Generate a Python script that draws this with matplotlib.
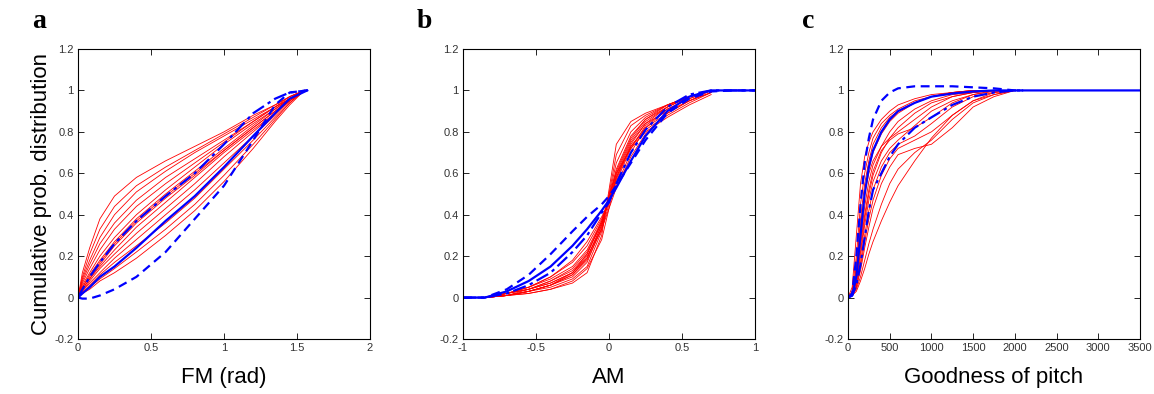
import numpy as np
import matplotlib
matplotlib.use("Agg")
import matplotlib.pyplot as plt

plt.rcParams['font.family'] = ['Liberation Sans', 'DejaVu Sans']

# ---- panel a : FM (rad) ----
xa = [0, 0.03, 0.08, 0.15, 0.25, 0.4, 0.6, 0.8, 1.0, 1.2, 1.35, 1.45, 1.55]
red_a = [
    [0, .12, .24, .38, .49, .58, .66, .73, .80, .88, .93, .97, 1],
    [0, .10, .21, .33, .44, .54, .63, .71, .79, .87, .93, .97, 1],
    [0, .09, .18, .29, .40, .51, .61, .70, .78, .86, .92, .97, 1],
    [0, .08, .16, .26, .36, .47, .58, .67, .76, .85, .92, .96, 1],
    [0, .07, .14, .23, .33, .44, .55, .65, .75, .85, .92, .96, 1],
    [0, .06, .12, .20, .29, .40, .52, .63, .74, .84, .91, .96, 1],
    [0, .05, .11, .18, .27, .38, .50, .61, .72, .83, .91, .96, 1],
    [0, .05, .10, .17, .26, .37, .49, .60, .71, .82, .90, .96, 1],
    [0, .04, .09, .16, .25, .36, .48, .59, .71, .82, .90, .95, 1],
    [0, .04, .09, .15, .23, .34, .46, .58, .70, .81, .89, .95, 1],
    [0, .03, .08, .14, .21, .31, .43, .55, .68, .80, .89, .95, 1],
    [0, .03, .07, .12, .19, .28, .40, .52, .65, .78, .88, .95, 1],
    [0, .02, .06, .11, .17, .25, .36, .48, .62, .76, .87, .94, 1],
    [0, .02, .05, .09, .14, .22, .33, .45, .59, .74, .86, .94, 1],
    [0, .02, .04, .08, .12, .19, .30, .42, .56, .72, .85, .93, 1],
]
xa_blue = [0, 0.03, 0.08, 0.15, 0.25, 0.4, 0.6, 0.8, 1.0, 1.2, 1.35, 1.45, 1.57]
solid_a = [0, .02, .05, .10, .15, .24, .37, .49, .63, .78, .89, .96, 1.0]
dashed_a = [0, -.005, -.005, .01, .04, .10, .22, .38, .54, .76, .93, .99, 1.0]
dashdot_a = [0, .04, .10, .17, .26, .37, .49, .60, .74, .89, .96, .99, 1.0]

# ---- panel b : AM ----
xb_red = [-0.85, -0.7, -0.55, -0.4, -0.25, -0.15, -0.05, 0, 0.05, 0.15, 0.25, 0.4, 0.55, 0.7]
red_b = [
    [0, .01, .02, .04, .07, .12, .30, .52, .74, .85, .89, .93, .97, 1.0],
    [0, .01, .03, .05, .09, .15, .32, .50, .69, .83, .88, .93, .97, 1.0],
    [0, .01, .03, .06, .10, .17, .34, .49, .65, .80, .87, .93, .97, 1.0],
    [0, .02, .04, .07, .12, .19, .35, .48, .62, .78, .86, .92, .97, 1.0],
    [0, .02, .04, .08, .13, .21, .36, .47, .60, .76, .85, .92, .97, 1.0],
    [0, .02, .05, .09, .15, .23, .37, .47, .58, .74, .84, .92, .97, 1.0],
    [0, .02, .05, .10, .17, .25, .38, .46, .56, .72, .83, .91, .96, 1.0],
    [0, .02, .05, .10, .18, .27, .39, .46, .54, .70, .82, .91, .96, 1.0],
    [0, .01, .04, .08, .14, .22, .36, .46, .57, .73, .82, .89, .95, 1.0],
    [0, .01, .03, .06, .11, .18, .33, .45, .59, .75, .84, .90, .95, .99],
    [0, .01, .02, .04, .08, .14, .28, .43, .58, .73, .81, .88, .94, .99],
    [0, .02, .04, .07, .12, .20, .33, .43, .53, .68, .79, .89, .95, .99],
    [0, .01, .03, .06, .11, .19, .35, .48, .60, .72, .80, .87, .93, .98],
    [0, .01, .03, .06, .12, .21, .37, .49, .61, .77, .86, .93, .97, 1.0],
]
xb_blue = [-1, -0.85, -0.7, -0.55, -0.4, -0.25, -0.15, -0.05, 0, 0.05, 0.15, 0.25, 0.4, 0.55, 0.7, 0.85, 1]
solid_b = [0, 0, .03, .08, .15, .25, .33, .42, .47, .53, .66, .78, .90, .97, 1.0, 1, 1]
dashed_b = [0, 0, .04, .11, .21, .32, .39, .45, .49, .54, .65, .76, .89, .96, .995, 1, 1]
dashdot_b = [0, 0, .02, .06, .12, .22, .30, .41, .46, .55, .70, .81, .92, .98, 1.0, 1, 1]

# ---- panel c : Goodness of pitch ----
xc_red = [0, 50, 100, 150, 200, 250, 300, 400, 500, 600, 800, 1000, 1250, 1500, 1750, 2000]
red_c = [
    [0, .05, .30, .55, .68, .75, .80, .86, .90, .93, .96, .98, .99, 1, 1, 1],
    [0, .03, .20, .45, .60, .70, .77, .84, .88, .91, .95, .97, .99, 1, 1, 1],
    [0, .02, .15, .38, .55, .66, .74, .82, .87, .90, .94, .97, .99, 1, 1, 1],
    [0, .02, .12, .32, .50, .62, .70, .79, .85, .89, .94, .97, .99, .995, 1, 1],
    [0, .01, .10, .27, .44, .56, .64, .73, .80, .85, .91, .95, .98, .99, 1, 1],
    [0, .01, .08, .22, .38, .50, .59, .70, .77, .82, .89, .94, .97, .99, 1, 1],
    [0, .01, .07, .20, .35, .47, .56, .66, .72, .76, .83, .90, .95, .98, .995, 1],
    [0, .01, .06, .17, .30, .42, .52, .63, .70, .74, .78, .84, .92, .97, .99, 1],
    [0, .01, .05, .15, .27, .38, .47, .59, .67, .72, .76, .80, .88, .95, .99, 1],
    [0, .01, .05, .13, .24, .34, .43, .55, .63, .69, .72, .74, .82, .92, .97, 1],
    [0, .01, .04, .10, .18, .26, .33, .45, .55, .62, .70, .76, .86, .94, .98, 1],
    [0, .01, .03, .08, .14, .21, .27, .37, .46, .54, .66, .77, .88, .95, .98, 1],
    [0, .02, .14, .35, .50, .60, .66, .73, .77, .80, .86, .92, .97, .99, 1, 1],
    [0, .01, .09, .25, .40, .52, .61, .71, .76, .79, .82, .87, .94, .98, 1, 1],
]
xc_blue = [0, 50, 100, 150, 200, 250, 300, 400, 500, 600, 800, 1000, 1250, 1500, 1750, 2000, 2500, 3000, 3500]
solid_c = [0, .01, .10, .30, .50, .63, .71, .80, .86, .90, .94, .97, .985, .995, 1, 1, 1, 1, 1]
xc_dash = [0, 50, 100, 150, 200, 250, 300, 400, 500, 600, 800, 1000, 1250, 1500, 1750, 2000, 2100]
dashed_c = [0, .02, .20, .45, .65, .77, .86, .95, .99, 1.01, 1.02, 1.02, 1.02, 1.015, 1.01, 1.0, 1.0]
dashdot_c = [0, .01, .06, .16, .29, .42, .52, .60, .68, .74, .82, .87, .93, .97, .99, 1.0, 1.0]

# axis limits and tick labels
yticks = [-0.2, 0, 0.2, 0.4, 0.6, 0.8, 1, 1.2]
ytick_labels = ['-0.2', '0', '0.2', '0.4', '0.6', '0.8', '1', '1.2']
xticks_a = [0, 0.5, 1, 1.5, 2]
xtick_labels_a = ['0', '0.5', '1', '1.5', '2']
xticks_b = [-1, -0.5, 0, 0.5, 1]
xtick_labels_b = ['-1', '-0.5', '0', '0.5', '1']
xticks_c = [0, 500, 1000, 1500, 2000, 2500, 3000, 3500]
xtick_labels_c = ['0', '500', '1000', '1500', '2000', '2500', '3000', '3500']

fig = plt.figure(figsize=(11.54, 3.94), dpi=100)
lefts = [78 / 1154, 463 / 1154, 848 / 1154]
w = 292 / 1154
b = 55 / 394
h = 290 / 394

panels = [
    (xa, red_a, xa_blue, solid_a, xa_blue, dashed_a, xa_blue, dashdot_a,
     (0, 2), xticks_a, xtick_labels_a, 'FM (rad)', 'a'),
    (xb_red, red_b, xb_blue, solid_b, xb_blue, dashed_b, xb_blue, dashdot_b,
     (-1, 1), xticks_b, xtick_labels_b, 'AM', 'b'),
    (xc_red, red_c, xc_blue, solid_c, xc_dash, dashed_c, xc_dash, dashdot_c,
     (0, 3500), xticks_c, xtick_labels_c, 'Goodness of pitch', 'c'),
]

for i, p in enumerate(panels):
    (xr, reds, xs, ys, xd, yd, xdd, ydd, xlim, xt, xtl, xlab, letter) = p
    ax = fig.add_axes([lefts[i], b, w, h])
    for yr in reds:
        ax.plot(xr, yr, color='r', lw=0.6)
    ax.plot(xdd, ydd, color='b', lw=1.6, linestyle=(0, (6, 2, 1.5, 2)))
    ax.plot(xs, ys, color='b', lw=1.6)
    ax.plot(xd, yd, color='b', lw=1.6, linestyle=(0, (4, 2.5)))
    ax.set_xlim(*xlim)
    ax.set_ylim(-0.2, 1.2)
    ax.set_xticks(xt)
    ax.set_xticklabels(xtl)
    ax.set_yticks(yticks)
    ax.set_yticklabels(ytick_labels)
    ax.tick_params(direction='in', top=True, right=True, length=4, width=0.6,
                   labelsize=8, labelcolor='#333333', pad=3)
    for s in ax.spines.values():
        s.set_linewidth(0.8)
    ax.set_xlabel(xlab, fontsize=16, labelpad=10)
    if i == 0:
        ax.set_ylabel('Cumulative prob. distribution', fontsize=16, labelpad=2)
    fig.text(lefts[i] - 46 / 1154, 1 - 21 / 394, letter, fontsize=20, fontweight='bold',
             family='Liberation Serif', va='center', ha='left')

fig.savefig('out.png', dpi=100)
